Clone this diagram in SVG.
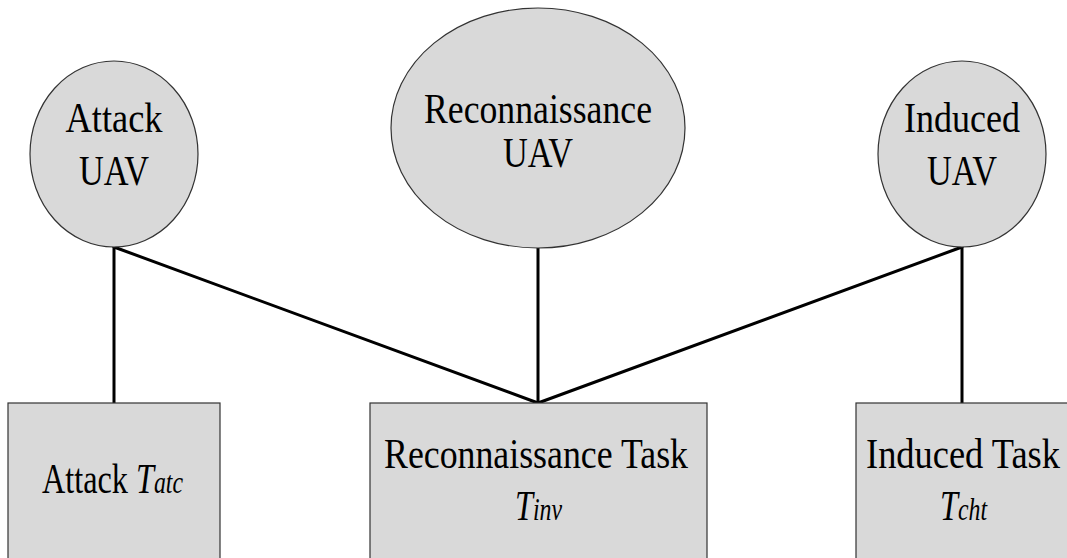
<svg xmlns="http://www.w3.org/2000/svg" width="1067" height="558" viewBox="0 0 1067 558">
<style>
.n{fill:#d9d9d9;stroke:#333;stroke-width:1.2}
.t{font-family:'Liberation Serif','DejaVu Serif',serif;font-size:42px;fill:#000;text-anchor:middle}
.i{font-style:italic}
.c{stroke:#000;stroke-width:3;fill:none;stroke-linecap:round}
</style>
<rect width="1067" height="558" fill="#fff"/>
<g id="connectors">
<line class="c" x1="114" y1="247" x2="114" y2="403"/>
<line class="c" x1="114" y1="247" x2="538" y2="403"/>
<line class="c" x1="538" y1="248" x2="538" y2="403"/>
<line class="c" x1="962" y1="247" x2="538" y2="403"/>
<line class="c" x1="962" y1="247" x2="962" y2="403"/>
</g>
<g id="attack-uav">
<ellipse class="n" cx="114" cy="154" rx="84" ry="93"/>
<text class="t" x="114" y="132" textLength="97" lengthAdjust="spacingAndGlyphs">Attack</text>
<text class="t" x="114" y="185" textLength="70" lengthAdjust="spacingAndGlyphs">UAV</text>
</g>
<g id="recon-uav">
<ellipse class="n" cx="538" cy="128" rx="147" ry="120"/>
<text class="t" x="538" y="123" textLength="228" lengthAdjust="spacingAndGlyphs">Reconnaissance</text>
<text class="t" x="538" y="167" textLength="70" lengthAdjust="spacingAndGlyphs">UAV</text>
</g>
<g id="induced-uav">
<ellipse class="n" cx="962" cy="154" rx="84" ry="93"/>
<text class="t" x="962" y="132" textLength="116" lengthAdjust="spacingAndGlyphs">Induced</text>
<text class="t" x="962" y="185" textLength="70" lengthAdjust="spacingAndGlyphs">UAV</text>
</g>
<g id="attack-task">
<rect class="n" x="8" y="403" width="212" height="170"/>
<text class="t" x="42" y="493" style="text-anchor:start" textLength="141" lengthAdjust="spacingAndGlyphs">Attack <tspan class="i">T</tspan><tspan class="i" font-size="31">atc</tspan></text>
</g>
<g id="recon-task">
<rect class="n" x="370" y="403" width="337" height="170"/>
<text class="t" x="536" y="468" textLength="304" lengthAdjust="spacingAndGlyphs">Reconnaissance Task</text>
<text class="t i" x="515" y="520" style="text-anchor:start" textLength="47" lengthAdjust="spacingAndGlyphs">T<tspan font-size="31">inv</tspan></text>
</g>
<g id="induced-task">
<rect class="n" x="856" y="403" width="220" height="170"/>
<text class="t" x="963" y="468" textLength="194" lengthAdjust="spacingAndGlyphs">Induced Task</text>
<text class="t i" x="940" y="520" style="text-anchor:start" textLength="47" lengthAdjust="spacingAndGlyphs">T<tspan font-size="31">cht</tspan></text>
</g>
</svg>
